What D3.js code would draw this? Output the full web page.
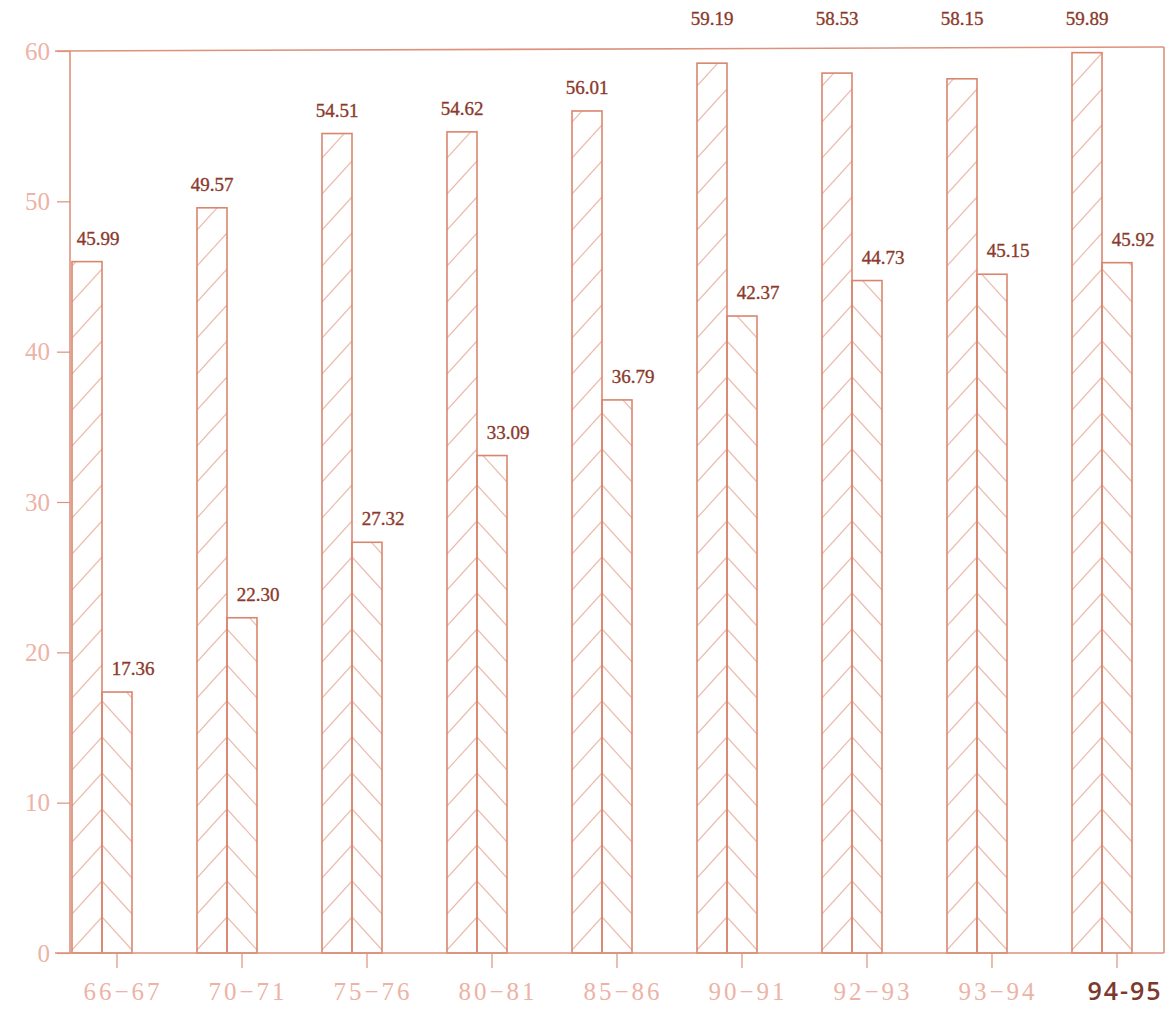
<!DOCTYPE html>
<html>
<head>
<meta charset="utf-8">
<script src="https://cdn.jsdelivr.net/npm/d3@7"></script>
<style>
  html, body { margin: 0; padding: 0; background: #ffffff; }
  svg { display: block; }
</style>
</head>
<body>
<svg id="chart" width="1176" height="1012"></svg>
<script>
// ---- data ----
const categories = ["66-67", "70-71", "75-76", "80-81", "85-86", "90-91", "92-93", "93-94", "94-95"];
const seriesA = [45.99, 49.57, 54.51, 54.62, 56.01, 59.19, 58.53, 58.15, 59.89];
const seriesB = [17.36, 22.30, 27.32, 33.09, 36.79, 42.37, 44.73, 45.15, 45.92];
const yTicks = [0, 10, 20, 30, 40, 50, 60];
const xTickLabels = ["66−67", "70−71", "75−76", "80−81", "85−86", "90−91", "92−93", "93−94", "94-95"];

// ---- layout ----
const W = 1176, H = 1012;
const axisX = 70, frameRight = 1164;
const svg = d3.select("#chart");

const y = d3.scaleLinear().domain([0, 60]).range([953, 51]);
const x = d3.scaleBand().domain(categories).range([72, 1132]).paddingInner(0.52).paddingOuter(0);
const xs = d3.scaleBand().domain(["A", "B"]).range([0, x.bandwidth()]);

const outline = "#d9866f";
const hatchCol = "#ecbdb1";
const axisCol = "#dd927c";
const labelCol = "#8b3a2b";
const tickTextCol = "#ecb3a6";

const bars = [];
categories.forEach((c, i) => {
  bars.push({ s: "A", c, v: seriesA[i], i });
  bars.push({ s: "B", c, v: seriesB[i], i });
});

const defs = svg.append("defs");
bars.forEach((b, k) => {
  defs.append("clipPath").attr("id", "clip" + k)
    .append("rect")
    .attr("x", x(b.c) + xs(b.s))
    .attr("y", y(b.v))
    .attr("width", xs.bandwidth())
    .attr("height", y(0) - y(b.v));
});

// ---- hatching ----
const step = 36, rise = 33;
const hatchG = svg.append("g");
bars.forEach((b, k) => {
  const x0 = x(b.c) + xs(b.s), w = xs.bandwidth();
  const base = y(0), top = y(b.v);
  const n = Math.ceil((base - top) / step) + 2;
  const g = hatchG.append("g").attr("clip-path", `url(#clip${k})`);
  for (let j = 0; j <= n; j++) {
    const ya = base - step * j;
    if (b.s === "A") {
      g.append("line").attr("x1", x0).attr("y1", ya + rise).attr("x2", x0 + w).attr("y2", ya);
    } else {
      g.append("line").attr("x1", x0).attr("y1", ya).attr("x2", x0 + w).attr("y2", ya + rise);
    }
  }
  g.selectAll("line").attr("stroke", hatchCol).attr("stroke-width", 1.2);
});

// ---- bar outlines ----
svg.append("g").selectAll("rect").data(bars).join("rect")
  .attr("x", d => x(d.c) + xs(d.s))
  .attr("y", d => y(d.v))
  .attr("width", xs.bandwidth())
  .attr("height", d => y(0) - y(d.v))
  .attr("fill", "none")
  .attr("stroke", outline)
  .attr("stroke-width", 1.6);

// ---- frame ----
const frame = svg.append("g").attr("stroke", axisCol).attr("stroke-width", 1.6).attr("fill", "none");
frame.append("line").attr("x1", 55).attr("x2", frameRight).attr("y1", y(60)).attr("y2", y(60) - 4);
frame.append("line").attr("x1", axisX).attr("x2", axisX).attr("y1", y(60)).attr("y2", y(0));
frame.append("line").attr("x1", 55).attr("x2", frameRight).attr("y1", y(0)).attr("y2", y(0));
frame.append("line").attr("x1", frameRight).attr("x2", frameRight).attr("y1", y(60) - 4).attr("y2", y(0));

// ---- y axis ----
const yAxis = svg.append("g").attr("transform", `translate(${axisX},0)`)
  .call(d3.axisLeft(y).tickValues(yTicks).tickSize(13).tickPadding(7).tickFormat(d3.format("d")));
yAxis.select(".domain").remove();
yAxis.selectAll(".tick line").attr("stroke", axisCol).attr("stroke-width", 1.2);
yAxis.selectAll(".tick text")
  .attr("fill", tickTextCol)
  .attr("font-family", "'Liberation Serif', serif")
  .attr("font-size", 25);

// ---- x axis ----
const xAxis = svg.append("g")
  .attr("transform", `translate(${xs("B") + xs.bandwidth() / 2 - x.bandwidth() / 2},${y(0)})`)
  .call(d3.axisBottom(x).tickSize(15).tickPadding(14).tickFormat((d, i) => xTickLabels[i]));
xAxis.select(".domain").remove();
xAxis.selectAll(".tick line").attr("stroke", axisCol).attr("stroke-width", 1.2);
xAxis.selectAll(".tick text")
  .attr("dx", 6)
  .attr("fill", tickTextCol)
  .attr("font-family", "'Liberation Serif', serif")
  .attr("font-size", 25)
  .attr("letter-spacing", 3);
xAxis.selectAll(".tick text").filter((d, i) => i === categories.length - 1)
  .attr("dx", 8)
  .attr("fill", "#7c3a2e")
  .attr("font-family", "'Open Sans', sans-serif")
  .attr("font-weight", 600)
  .attr("font-size", 25)
  .attr("letter-spacing", 2);

// ---- value labels ----
svg.append("g").selectAll("text").data(bars).join("text")
  .attr("x", d => {
    const cx = x(d.c) + xs(d.s) + xs.bandwidth() / 2 + (d.s === "B" ? 16 : 0);
    return Math.max(cx, axisX + 28);
  })
  .attr("y", d => {
    const top = y(d.v);
    return top - 24 < 62 ? 25 : top - 17;
  })
  .attr("text-anchor", "middle")
  .attr("fill", labelCol)
  .attr("stroke", labelCol)
  .attr("stroke-width", 0.35)
  .attr("font-family", "'Liberation Serif', 'Times New Roman', serif")
  .attr("font-size", 19)
  .text(d => d.v.toFixed(2));
</script>
</body>
</html>
